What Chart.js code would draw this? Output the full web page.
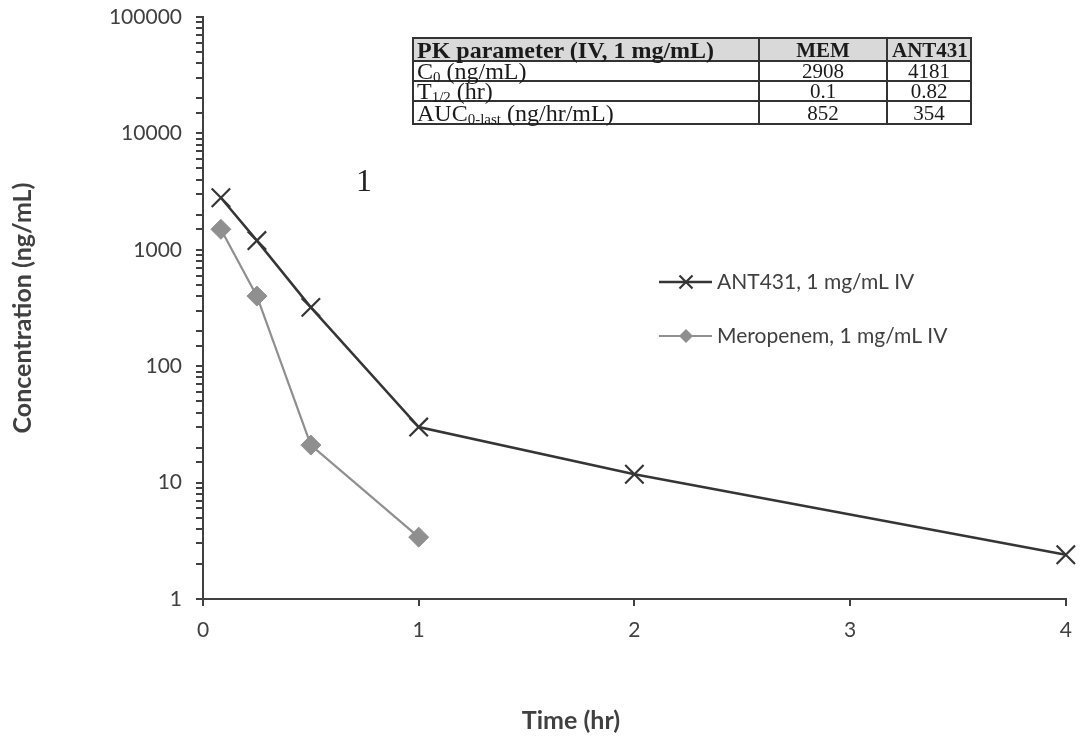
<!DOCTYPE html>
<html>
<head>
<meta charset="utf-8">
<script src="https://cdn.jsdelivr.net/npm/chart.js@4.4.0/dist/chart.umd.min.js"></script>
<style>
  html, body { margin: 0; padding: 0; background: #ffffff; }
  #wrap { position: relative; width: 1081px; height: 740px; overflow: hidden; }
  #chart { position: absolute; left: 0; top: 0; }
  #pk { position: absolute; left: 412px; top: 37px; width: 558px; table-layout: fixed;
        border-collapse: collapse; font-family: "Liberation Serif", "Times New Roman", serif;
        font-size: 20px; color: #1a1a1a; }
  #pk td, #pk th { border: 2px solid #333333; padding: 0 4px; line-height: 18px; white-space: nowrap; overflow: visible; }
  #pk th { background: #d9d9d9; font-weight: bold; }
  #pk .c { text-align: center; font-size: 21px; }
  #pk .l { text-align: left; font-size: 24px; padding-left: 3px; }
  #pk sub { font-size: 15px; vertical-align: -3px; line-height: 0; }
  #note { position: absolute; left: 356px; top: 164px; font-family: "Liberation Serif", "Times New Roman", serif;
          font-size: 32px; line-height: 1; color: #222; }
</style>
</head>
<body>
<div id="wrap">
  <canvas id="chart" width="1081" height="740"></canvas>
  <table id="pk"></table>
  <div id="note">1</div>
</div>
<script>
// ---- Data ----
const timeANT431 = [0.083, 0.25, 0.5, 1, 2, 4];
const concANT431 = [2800, 1200, 320, 30, 11.8, 2.4];
const timeMEM = [0.083, 0.25, 0.5, 1];
const concMEM = [1500, 400, 21, 3.4];
const seriesLabels = ['ANT431, 1 mg/mL IV', 'Meropenem, 1 mg/mL IV'];
const xTickValues = [0, 1, 2, 3, 4];
const yTickLabels = [1, 10, 100, 1000, 10000, 100000];
const xTitle = 'Time (hr)';
const yTitle = 'Concentration (ng/mL)';

// PK table
const pkHeader = ['PK parameter (IV, 1 mg/mL)', 'MEM', 'ANT431'];
const pkRowLabels = ['C<sub>0</sub> (ng/mL)', 'T<sub>1/2</sub> (hr)', 'AUC<sub>0-last</sub> (ng/hr/mL)'];
const pkMEM = ['2908', '0.1', '852'];
const pkANT431 = ['4181', '0.82', '354'];

// ---- Table build ----
(function buildTable() {
  const t = document.getElementById('pk');
  const colW = [346, 128, 84];
  const rowH = [23, 20, 20, 23];
  let html = '<colgroup>' + colW.map(w => '<col style="width:' + w + 'px">').join('') + '</colgroup>';
  html += '<tr style="height:' + rowH[0] + 'px"><th class="l">' + pkHeader[0] + '</th><th class="c">' + pkHeader[1] + '</th><th class="c">' + pkHeader[2] + '</th></tr>';
  for (let i = 0; i < pkRowLabels.length; i++) {
    html += '<tr style="height:' + rowH[i + 1] + 'px"><td class="l">' + pkRowLabels[i] + '</td><td class="c">' + pkMEM[i] + '</td><td class="c">' + pkANT431[i] + '</td></tr>';
  }
  t.innerHTML = html;
})();

// ---- Chart ----
const darkCol = '#353535';
const greyCol = '#8f8f8f';
const axisCol = '#404040';
const txtCol = '#404040';

function toPoints(xs, ys) { return xs.map((x, i) => ({ x: x, y: ys[i] })); }

const legendPlugin = {
  id: 'manualLegend',
  afterDraw(chart) {
    const ctx = chart.ctx;
    const ys = [282, 336];
    ctx.save();
    chart.data.datasets.forEach((ds, i) => {
      const y = ys[i];
      ctx.strokeStyle = ds.borderColor;
      ctx.lineWidth = ds.borderWidth;
      ctx.beginPath();
      ctx.moveTo(659, y); ctx.lineTo(712, y); ctx.stroke();
      const cx = 686;
      if (ds.pointStyle === 'crossRot') {
        const r = 6.5;
        ctx.lineWidth = 2.2;
        ctx.beginPath();
        ctx.moveTo(cx - r, y - r); ctx.lineTo(cx + r, y + r);
        ctx.moveTo(cx - r, y + r); ctx.lineTo(cx + r, y - r);
        ctx.stroke();
      } else {
        const r = 7;
        ctx.fillStyle = ds.backgroundColor;
        ctx.beginPath();
        ctx.moveTo(cx, y - r); ctx.lineTo(cx + r, y); ctx.lineTo(cx, y + r); ctx.lineTo(cx - r, y);
        ctx.closePath(); ctx.fill();
      }
      ctx.fillStyle = txtCol;
      ctx.font = '21px Lato';
      ctx.textAlign = 'left';
      ctx.textBaseline = 'middle';
      ctx.fillText(ds.label, 717, y);
    });
    // x-axis title
    ctx.font = 'bold 25px Lato';
    ctx.textAlign = 'center';
    ctx.textBaseline = 'middle';
    ctx.fillStyle = txtCol;
    ctx.fillText(xTitle, 571, 721);
    ctx.restore();
  }
};

function isPow10(v) {
  const l = Math.log10(v);
  return Math.abs(l - Math.round(l)) < 1e-9;
}

new Chart(document.getElementById('chart'), {
  type: 'line',
  data: {
    datasets: [
      {
        label: seriesLabels[0],
        data: toPoints(timeANT431, concANT431),
        borderColor: darkCol,
        backgroundColor: darkCol,
        borderWidth: 2.5,
        pointStyle: 'crossRot',
        pointRadius: 13,
        pointBorderWidth: 2.2,
        pointBorderColor: darkCol,
        tension: 0,
        clip: false
      },
      {
        label: seriesLabels[1],
        data: toPoints(timeMEM, concMEM),
        borderColor: greyCol,
        backgroundColor: greyCol,
        borderWidth: 2.2,
        pointStyle: 'rectRot',
        pointRadius: 10,
        pointBorderWidth: 1,
        pointBorderColor: greyCol,
        pointBackgroundColor: greyCol,
        tension: 0,
        clip: false
      }
    ]
  },
  options: {
    responsive: false,
    animation: false,
    devicePixelRatio: 1,
    layout: { padding: { left: 0, right: 13, top: 17, bottom: 0 } },
    plugins: { legend: { display: false }, tooltip: { enabled: false }, title: { display: false } },
    scales: {
      x: {
        type: 'linear',
        min: 0, max: 4,
        afterFit(s) { s.height = 141; s.paddingLeft = 0; s.paddingRight = 0; },
        afterBuildTicks(s) { s.ticks = xTickValues.map(v => ({ value: v })); },
        border: { display: true, color: axisCol, width: 2 },
        grid: { drawOnChartArea: false, drawTicks: true, tickLength: 7, color: axisCol, lineWidth: 2 },
        ticks: { color: txtCol, padding: 12, font: { family: 'Lato', size: 21 } }
      },
      y: {
        type: 'logarithmic',
        min: 1, max: 100000,
        afterFit(s) { s.width = 203; s.paddingTop = 0; s.paddingBottom = 0; },
        border: { display: true, color: axisCol, width: 2 },
        grid: { drawOnChartArea: false, drawTicks: true, tickLength: 7, color: axisCol, lineWidth: 2 },
        ticks: {
          autoSkip: false, color: txtCol, padding: 14, font: { family: 'Lato', size: 21 },
          callback: (v) => (isPow10(v) && yTickLabels.includes(Math.round(v))) ? String(Math.round(v)) : ''
        },
        title: { display: true, text: yTitle, color: txtCol, font: { family: 'Lato', size: 25, weight: 'bold' }, padding: { top: 8 } }
      }
    }
  },
  plugins: [legendPlugin]
});
</script>
</body>
</html>
